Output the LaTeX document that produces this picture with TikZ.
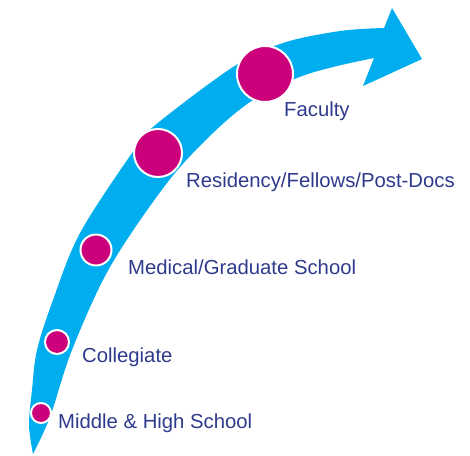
\documentclass[tikz,border=0pt]{standalone}
\usepackage{fontspec}
\setmainfont{Liberation Sans}
\definecolor{arrowcyan}{RGB}{0,174,239}
\definecolor{dotmagenta}{RGB}{204,0,122}
\definecolor{labelblue}{RGB}{46,58,140}
\begin{document}
\begin{tikzpicture}[x=1pt,y=-1pt,
  dot/.style={circle,fill=dotmagenta,draw=white,line width=2pt,inner sep=0pt},
  lbl/.style={anchor=base west,inner sep=0pt,text=labelblue,font=\fontsize{20.3}{24}\selectfont}]
\useasboundingbox (0,0) rectangle (470,455);
% arrow body
\fill[arrowcyan]
  plot[smooth,tension=0.55] coordinates {(33,454) (29,425) (32,390) (37,350) (53,300) (80,233) (132,153) (153,127) (233,67) (283,43) (340,31) (384,28)}
  -- (392,8) -- (422,59) -- (363,86) -- (374,58)
  -- plot[smooth,tension=0.55] coordinates {(374,58) (333,67) (297,78) (253,100) (213,133) (167,183) (110,267) (72,350) (50,417) (33,454)}
  -- cycle;
% dots
\node[dot,minimum size=56pt] (fac) at (265,74) {};
\node[dot,minimum size=48pt] (res) at (158,153) {};
\node[dot,minimum size=31pt] (med) at (96,250) {};
\node[dot,minimum size=24pt] (col) at (57,342) {};
\node[dot,minimum size=20pt] (mid) at (41,413) {};
% labels
\node[lbl] (tfac) at (284,116) {Faculty};
\node[lbl] (tres) at (186,187) {Residency/Fellows/Post-Docs};
\node[lbl] (tmed) at (128,274) {Medical/Graduate School};
\node[lbl] (tcol) at (82,362) {Collegiate};
\node[lbl] (tmid) at (58,428) {Middle \& High School};
\end{tikzpicture}
\end{document}
